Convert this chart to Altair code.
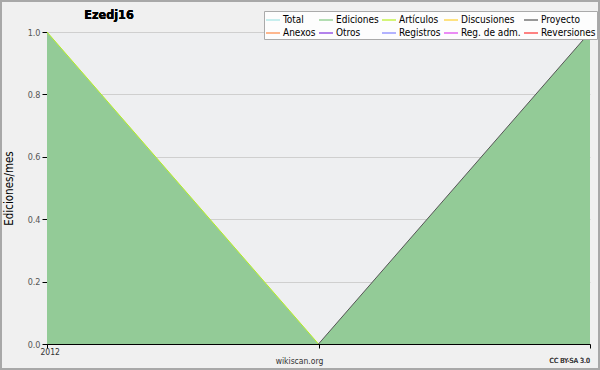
import altair as alt
import pandas as pd

# ---- data ----
months = [0, 1, 2]
ediciones = [1.0, 0.0, 1.0]
articulos = [1.0, 0.0, None]
proyecto = [None, 0.0, 1.0]

# legend order (column-major, 2 rows x 5 columns)
series_names = ["Total", "Anexos", "Ediciones", "Otros", "Artículos", "Registros",
                "Discusiones", "Reg. de adm.", "Proyecto", "Reversiones"]
series_colors = ["#a4e4e4", "#ff8844", "#80c880", "#8030e0", "#b8f020", "#8080ff",
                 "#ffd030", "#e040f0", "#555555", "#ff3030"]

x_tick_values = [0, 1, 2]
y_tick_values = [round(i * 0.05, 2) for i in range(21)]

area_df = pd.DataFrame({"m": months, "v": ediciones})
rows = []
for name, vals in [("Artículos", articulos), ("Proyecto", proyecto)]:
    for m, v in zip(months, vals):
        if v is not None:
            rows.append({"m": m, "v": v, "serie": name})
line_df = pd.DataFrame(rows)

FONT = "DejaVu Sans Condensed, Liberation Sans, sans-serif"

x_enc = alt.X("m:Q",
              scale=alt.Scale(domain=[0, 2], nice=False, zero=False),
              axis=alt.Axis(values=x_tick_values,
                            labelExpr="datum.value == 0 ? '2012' : ''",
                            title="wikiscan.org", titleX=252, titleY=12,
                            titleFont=FONT, titleFontSize=8.5, titleFontWeight="normal",
                            titleColor="#333",
                            labelFont=FONT, labelFontSize=8.5, labelColor="#333",
                            labelPadding=-1, labelOffset=-7,
                            tickSize=4, tickColor="#000", domainColor="#000",
                            grid=False))

y_enc = alt.Y("v:Q",
              scale=alt.Scale(domain=[0, 1], nice=False),
              axis=alt.Axis(values=y_tick_values,
                            labelExpr="(round(datum.value*100) % 20 == 0) ? format(datum.value, '.1f') : ''",
                            title="Ediciones/mes", titleFont=FONT, titleFontSize=11.5,
                            titleFontWeight="normal", titleColor="#000", titlePadding=13,
                            labelFont=FONT, labelFontSize=9, labelColor="#555",
                            labelPadding=2,
                            tickSize=5, tickColor="#000", domainColor="#000",
                            grid=True, gridColor="#cfcfcf",
                            gridOpacity={"condition": {"test": "round(datum.value*100) % 20 == 0",
                                                       "value": 1}, "value": 0}))

area = alt.Chart(area_df).mark_area(color="#93cb97", opacity=1).encode(x=x_enc, y=y_enc)

lines = alt.Chart(line_df).mark_line(strokeWidth=1).encode(
    x="m:Q", y="v:Q",
    color=alt.Color("serie:N",
                    scale=alt.Scale(domain=series_names, range=series_colors),
                    legend=alt.Legend(orient="none", legendX=217, legendY=-21,
                                      columns=5, title=None,
                                      symbolType="stroke", symbolSize=196,
                                      symbolStrokeWidth=1.2, symbolOpacity=1,
                                      labelFont=FONT, labelFontSize=10, labelColor="#000",
                                      labelOffset=2, rowPadding=-4, columnPadding=0,
                                      padding=1, fillColor="#fdfdfd",
                                      strokeColor="#aaaaaa")))

frame = alt.Chart(area_df).mark_rect(fill=None, stroke="#a8a8a8", strokeWidth=2).encode(
    x=alt.value(-46), x2=alt.value(552), y=alt.value(-31), y2=alt.value(337))

credit = alt.Chart(area_df).mark_text(text="CC BY-SA 3.0", font=FONT, fontSize=7,
                                      color="#444", align="right").encode(
    x=alt.value(543), y=alt.value(329))

title = alt.Chart(area_df).mark_text(text="Ezedj16", font=FONT, fontSize=12.5,
                                     fontWeight="bold", color="#000",
                                     align="center", baseline="middle").encode(
    x=alt.value(62), y=alt.value(-17))

chart = alt.layer(area, lines, credit, title, frame).properties(
    width=543, height=312,
    padding={"left": 47, "top": 32, "right": 10, "bottom": 26},
    autosize=alt.AutoSizeParams(type="none"),
    background="#f0f0f0",
).configure_view(fill="#eeeff1", stroke=None)

chart.save("out.html", embed_options={"renderer": "svg", "actions": False})
